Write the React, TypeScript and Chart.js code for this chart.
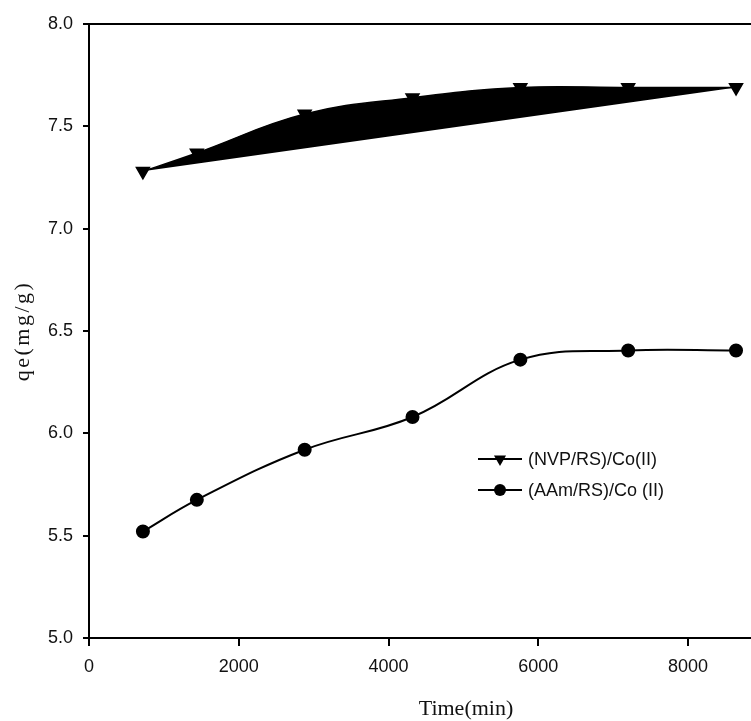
import React, { useEffect, useRef } from "react";
import { Chart, registerables } from "chart.js";

Chart.register(...registerables);

const timeMin = [720, 1440, 2880, 4320, 5760, 7200, 8640];
const nvpQe = [7.28, 7.37, 7.56, 7.64, 7.69, 7.69, 7.69];
const aamQe = [5.52, 5.675, 5.92, 6.08, 6.36, 6.405, 6.405];
const xTicks = [0, 2000, 4000, 6000, 8000];
const yTicks = [5.0, 5.5, 6.0, 6.5, 7.0, 7.5, 8.0];
const seriesNames = ["(NVP/RS)/Co(II)", "(AAm/RS)/Co (II)"];
const xTitle = "Time(min)";
const yTitle = "qe(mg/g)";

function drawTriangleDown(ctx: CanvasRenderingContext2D, x: number, y: number, r: number) {
  ctx.beginPath();
  for (let k = 0; k < 3; k++) {
    const a = Math.PI + (k * 2 * Math.PI) / 3;
    const px = x + Math.sin(a) * r;
    const py = y - Math.cos(a) * r;
    if (k === 0) ctx.moveTo(px, py);
    else ctx.lineTo(px, py);
  }
  ctx.closePath();
  ctx.fill();
}

function drawCircle(ctx: CanvasRenderingContext2D, x: number, y: number, r: number) {
  ctx.beginPath();
  ctx.arc(x, y, r, 0, Math.PI * 2);
  ctx.fill();
}

const decorPlugin = {
  id: "decor",
  afterDraw(chart: any) {
    const { ctx, chartArea } = chart;
    ctx.save();
    // top frame line
    ctx.strokeStyle = "#000";
    ctx.lineWidth = 2;
    ctx.beginPath();
    ctx.moveTo(chartArea.left - 1, chartArea.top);
    ctx.lineTo(chartArea.right, chartArea.top);
    ctx.stroke();

    // axis titles
    ctx.fillStyle = "#111";
    ctx.font = '22px "Liberation Serif"';
    ctx.textAlign = "center";
    ctx.textBaseline = "alphabetic";
    ctx.fillText(xTitle, 466, 715);

    ctx.save();
    ctx.translate(29, (chartArea.top + chartArea.bottom) / 2);
    ctx.rotate(-Math.PI / 2);
    (ctx as any).letterSpacing = "2.5px";
    ctx.textAlign = "center";
    ctx.fillText(yTitle, 0, 0);
    ctx.restore();

    // legend
    const lx0 = 478;
    const lx1 = 522;
    const rows = [459, 490];
    ctx.font = '18px "Liberation Sans"';
    ctx.textAlign = "left";
    ctx.textBaseline = "middle";
    rows.forEach((y, i) => {
      ctx.strokeStyle = "#000";
      ctx.lineWidth = 2;
      ctx.beginPath();
      ctx.moveTo(lx0, y);
      ctx.lineTo(lx1, y);
      ctx.stroke();
      ctx.fillStyle = "#000";
      if (i === 0) drawTriangleDown(ctx, (lx0 + lx1) / 2, y, 7);
      else drawCircle(ctx, (lx0 + lx1) / 2, y, 6);
      ctx.fillStyle = "#111";
      ctx.fillText(seriesNames[i], 528, y + 1);
    });
    ctx.restore();
  },
};

export default function App() {
  const ref = useRef<HTMLCanvasElement>(null);
  useEffect(() => {
    document.body.style.margin = "0";
    const canvas = ref.current!;
    const chart = new Chart(canvas, {
      type: "line",
      data: {
        datasets: [
          {
            label: seriesNames[0],
            data: timeMin.map((t, i) => ({ x: t, y: nvpQe[i] })),
            borderColor: "#000",
            backgroundColor: "#000",
            borderWidth: 1.5,
            fill: "shape",
            tension: 0.4,
            pointStyle: "triangle",
            rotation: 180,
            pointRadius: 7.5,
            pointBackgroundColor: "#000",
            pointBorderColor: "#000",
          },
          {
            label: seriesNames[1],
            data: timeMin.map((t, i) => ({ x: t, y: aamQe[i] })),
            borderColor: "#000",
            backgroundColor: "#000",
            borderWidth: 2,
            fill: false,
            tension: 0.4,
            pointStyle: "circle",
            pointRadius: 6,
            pointBackgroundColor: "#000",
            pointBorderColor: "#000",
          },
        ],
      },
      options: {
        animation: false,
        responsive: false,
        layout: { autoPadding: false, padding: { top: 24, right: 0, left: 0, bottom: 0 } },
        plugins: {
          legend: { display: false },
          tooltip: { enabled: false },
        },
        scales: {
          x: {
            type: "linear",
            min: 0,
            max: 8840,
            afterBuildTicks: (scale: any) => {
              scale.ticks = xTicks.map((v) => ({ value: v }));
            },
            afterFit: (scale: any) => {
              scale.height = 83;
            },
            grid: {
              display: true,
              drawOnChartArea: false,
              drawTicks: true,
              tickLength: 8,
              tickWidth: 2,
              tickColor: "#000",
              color: "#000",
              lineWidth: 2,
            },
            border: { display: true, color: "#000", width: 2 },
            ticks: {
              color: "#111",
              font: { family: "Liberation Sans", size: 18 },
              padding: 10,
              maxRotation: 0,
              autoSkip: false,
              callback: (v: any) => String(v),
            },
          },
          y: {
            type: "linear",
            min: 5,
            max: 8,
            afterBuildTicks: (scale: any) => {
              scale.ticks = yTicks.map((v) => ({ value: v }));
            },
            afterFit: (scale: any) => {
              scale.width = 89;
            },
            grid: {
              display: true,
              drawOnChartArea: false,
              drawTicks: true,
              tickLength: 6,
              tickWidth: 2,
              tickColor: "#000",
              color: "#000",
              lineWidth: 2,
            },
            border: { display: true, color: "#000", width: 2 },
            ticks: {
              color: "#111",
              font: { family: "Liberation Sans", size: 18 },
              padding: 10,
              callback: (v: any) => Number(v).toFixed(1),
            },
          },
        },
      },
      plugins: [decorPlugin],
    });
    return () => chart.destroy();
  }, []);
  return (
    <div style={{ width: 751, height: 721 }}>
      <canvas ref={ref} width={751} height={721} />
    </div>
  );
}
